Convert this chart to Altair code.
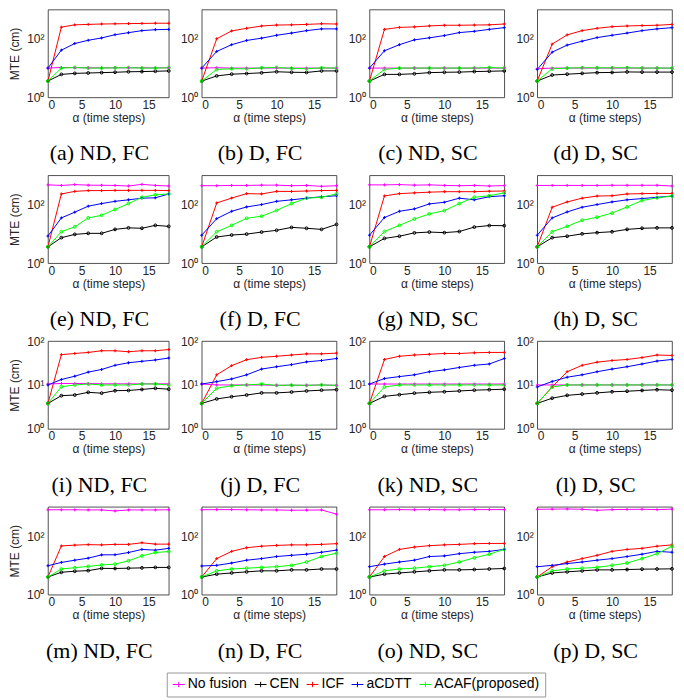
import altair as alt
import pandas as pd

steps = [0, 2, 4, 6, 8, 10, 12, 14, 16, 18]
methods = ["No fusion", "CEN", "ICF", "aCDTT", "ACAF(proposed)"]
colors = ["#ff00ff", "#000000", "#ff0000", "#0000ff", "#00ff00"]
plus_methods = ["No fusion", "ICF", "aCDTT"]
circle_methods = ["CEN", "ACAF(proposed)"]
captions = ["(a) ND, FC", "(b) D, FC", "(c) ND, SC", "(d) D, SC",
            "(e) ND, FC", "(f) D, FC", "(g) ND, SC", "(h) D, SC",
            "(i) ND, FC", "(j) D, FC", "(k) ND, SC", "(l) D, SC",
            "(m) ND, FC", "(n) D, FC", "(o) ND, SC", "(p) D, SC"]

# each panel: [No fusion, CEN, ICF, aCDTT, ACAF(proposed)]
mte_a = [[10, 10.5, 10.3, 10.2, 10.2, 10.2, 10.2, 10.2, 10.2, 10.2],
         [3.6, 6.1, 6.6, 6.8, 7.0, 7.2, 7.5, 7.6, 7.8, 8.0],
         [3.6, 250, 300, 310, 320, 325, 330, 335, 340, 340],
         [10, 41, 69, 89, 107, 138, 162, 190, 205, 210],
         [3.6, 10, 10.5, 10, 10, 10.2, 10.3, 10, 10, 10.3]]
mte_b = [[10, 10.3, 10, 10, 10, 10, 10, 10, 10, 10],
         [3.6, 5.4, 6.2, 6.5, 6.9, 7.5, 7.2, 7.1, 8, 8],
         [3.6, 100, 186, 228, 273, 295, 300, 310, 326, 320],
         [10, 37, 63, 88, 105, 132, 157, 190, 218, 218],
         [3.6, 9.0, 9.5, 9.5, 10.2, 10.5, 9.8, 9.5, 10.2, 10]]
mte_c = [[10, 10, 10, 10, 10, 10, 10, 10, 10, 10],
         [3.6, 6.1, 6.1, 6.4, 7.0, 7.2, 7.3, 7.6, 7.8, 8.0],
         [3.6, 210, 245, 255, 275, 290, 290, 295, 300, 320],
         [10, 39, 63, 92, 108, 129, 163, 180, 210, 240],
         [3.6, 9, 10, 10, 10, 10, 10, 10, 10.5, 10]]
mte_d = [[9.5, 10, 10, 10, 10, 10, 10, 10, 10, 10],
         [3.6, 5.8, 6.2, 6.6, 7.0, 7.1, 7.4, 7.3, 7.3, 7.3],
         [3.6, 66, 136, 190, 228, 259, 274, 283, 290, 310],
         [9, 35, 61, 83, 110, 132, 157, 190, 218, 240],
         [3.6, 9.5, 10, 10.3, 10.2, 10.2, 10.3, 10, 10, 10]]
mte_e = [[470, 450, 480, 460, 455, 450, 430, 490, 450, 430],
         [3.6, 7.4, 9.6, 10.4, 10.4, 14.2, 16, 15.5, 19.5, 18],
         [3.6, 230, 282, 300, 300, 305, 305, 305, 305, 300],
         [8.4, 35, 55, 88, 108, 129, 145, 165, 170, 230],
         [3.6, 11.8, 17.4, 35, 43, 68, 108, 177, 215, 230]]
mte_f = [[440, 440, 450, 450, 460, 460, 440, 450, 420, 440],
         [3.6, 7.8, 9.1, 9.8, 11.5, 13.2, 16.6, 15.5, 14.2, 21],
         [3.6, 113, 167, 236, 230, 282, 280, 290, 300, 305],
         [9, 33, 59, 83, 100, 129, 145, 165, 185, 200],
         [3.6, 11.8, 19.5, 34, 40, 63, 108, 165, 177, 230]]
mte_g = [[470, 470, 480, 460, 470, 450, 440, 450, 430, 445],
         [3.6, 7.0, 8.3, 10.8, 11.5, 11, 12, 17, 19.2, 19],
         [3.6, 197, 236, 250, 265, 275, 275, 275, 285, 290],
         [9, 36, 59, 71, 105, 120, 165, 145, 185, 200],
         [3.6, 12, 19.5, 32, 48, 62, 108, 177, 200, 250]]
mte_h = [[450, 450, 450, 450, 450, 455, 455, 455, 455, 430],
         [3.6, 7.4, 8.3, 10, 11, 11.8, 14.2, 15.5, 16, 16],
         [3.6, 81, 123, 165, 195, 200, 230, 236, 240, 240],
         [9, 35, 56, 81, 100, 123, 145, 160, 177, 195],
         [3.6, 11.8, 18, 29, 37, 51, 83, 137, 170, 195]]
mte_i = [[10.5, 10.8, 10.8, 10.8, 10.6, 10.6, 10.6, 10.6, 10.6, 10.6],
         [3.8, 5.7, 5.9, 6.8, 6.5, 7.4, 7.5, 7.9, 8.4, 8.0],
         [3.8, 49, 52, 55, 60, 60, 57, 60, 60, 64],
         [10, 13.3, 15.8, 19.6, 22.5, 28, 32, 34.5, 37, 41],
         [3.8, 9.1, 10, 10.5, 10, 10, 10, 10.5, 10.5, 10]]
mte_j = [[10.5, 10, 10, 10, 10, 9.8, 9.9, 9.8, 10, 9.8],
         [3.8, 4.8, 5.4, 5.9, 6.6, 6.6, 6.9, 7.3, 7.6, 7.8],
         [3.8, 17, 27.5, 37.6, 42.5, 45, 48, 51, 51, 53],
         [10.5, 11.9, 13.7, 17, 23, 26, 29, 33.5, 36, 40],
         [3.8, 8.4, 9.6, 10, 10.5, 9.8, 9.9, 9.8, 10, 9.8]]
mte_k = [[10.5, 10.5, 10.5, 10.5, 10.5, 10.5, 10.5, 10.5, 10.5, 10.5],
         [3.8, 5.5, 6.0, 6.5, 6.8, 7.0, 7.3, 7.6, 7.8, 8.0],
         [3.8, 38, 45, 48, 50, 52, 52, 54, 55, 55],
         [10.5, 14, 15.5, 17, 20, 22, 25, 28, 30, 40],
         [3.8, 9, 10, 10, 10, 10, 10, 10, 10, 10]]
mte_l = [[10, 10, 10, 10, 10, 10, 10, 10, 10, 10],
         [3.8, 5.0, 5.8, 6.2, 6.6, 7.0, 7.2, 7.5, 7.8, 7.6],
         [3.8, 9, 20, 28, 33, 36, 38, 42, 48, 47],
         [9, 12, 15, 17, 20, 23, 26, 30, 35, 38],
         [3.8, 9, 10, 10, 10, 10, 10, 10, 10, 10]]
mte_m = [[790, 790, 790, 780, 780, 720, 780, 780, 780, 790],
         [4.0, 5.8, 6.3, 6.6, 7.9, 7.8, 8.0, 8.2, 8.5, 8.5],
         [4.0, 46, 49, 51, 50, 52, 52, 59, 53, 53],
         [9.7, 12.6, 15, 17.6, 22.8, 23, 27.4, 35, 33, 38],
         [4.0, 7.5, 8.3, 9.2, 10.3, 11, 14.3, 21, 27.4, 29.6]]
mte_n = [[790, 800, 800, 790, 780, 780, 760, 770, 780, 560],
         [4.0, 5.0, 5.5, 6.0, 6.5, 6.5, 7.0, 7.0, 7.5, 7.5],
         [4.0, 17, 30, 40, 45, 48, 50, 50, 52, 55],
         [9.5, 10, 12, 15, 17, 20, 22, 24, 28, 33],
         [4.0, 6.5, 7.5, 8, 8.5, 9, 10, 13, 20, 26]]
mte_o = [[790, 790, 800, 790, 800, 790, 790, 800, 800, 800],
         [4.0, 5.0, 5.5, 6.0, 6.5, 7.0, 7.0, 7.2, 7.5, 7.8],
         [4.0, 20, 35, 42, 47, 50, 52, 55, 56, 56],
         [9, 11, 13, 15, 20, 21, 25, 28, 30, 35],
         [4.0, 6.5, 7.5, 8, 9, 10, 13, 18, 24, 35]]
mte_p = [[820, 830, 840, 820, 760, 800, 810, 820, 800, 830],
         [4.0, 5.5, 6.0, 6.5, 7.0, 7.0, 7.2, 7.4, 7.5, 7.6],
         [4.0, 9, 13, 17, 22, 30, 35, 38, 45, 50],
         [9, 10, 11.5, 13, 15, 17, 20, 24, 30, 28],
         [4.0, 6.5, 7.5, 8, 8.5, 10, 12, 17, 25, 45]]

panels_data = [mte_a, mte_b, mte_c, mte_d, mte_e, mte_f, mte_g, mte_h,
               mte_i, mte_j, mte_k, mte_l, mte_m, mte_n, mte_o, mte_p]

PLUS = "M-1,0L1,0M0,-1L0,1"

label_expr = ("datum.value == 1 ? '10\u2070' : datum.value == 10 ? '10\u00b9' : "
              "datum.value == 100 ? '10\u00b2' : '10\u00b3'")

legend = alt.Legend(
    title=None, orient="none", legendX=119, legendY=664,
    direction="horizontal", columns=5,
    symbolType="M-1,0L1,0M0,-0.45L0,0.45", symbolSize=140, symbolStrokeWidth=1,
    symbolFillColor="transparent",
    labelFont="Liberation Sans", labelFontSize=14, labelColor="#000000",
    labelOffset=2, columnPadding=5,
    strokeColor="#999999", fillColor="#ffffff", padding=5,
)


def make_panel(i):
    vals = panels_data[i]
    row, col = divmod(i, 4)
    rows = []
    for m, series in zip(methods, vals):
        for xv, yv in zip(steps, series):
            rows.append({"method": m, "x": xv, "v": yv})
    df = pd.DataFrame(rows)
    if row == 2:
        ydom, yvals = [1, 100], [1, 10, 100]
    else:
        ydom, yvals = [1, 1000], [1, 100]
    yaxis_kw = dict(values=yvals, labelExpr=label_expr, grid=False, ticks=False,
                    domain=False, labelPadding=4)
    if col == 0:
        yaxis = alt.Axis(title="MTE (cm)", titlePadding=5, **yaxis_kw)
    else:
        yaxis = alt.Axis(title=None, **yaxis_kw)
    xenc = alt.X("x:Q", scale=alt.Scale(domain=[0, 18], nice=False, zero=False),
                 axis=alt.Axis(values=[0, 5, 10, 15], title="\u03b1 (time steps)",
                               grid=False, ticks=False, domain=False,
                               labelPadding=2, titlePadding=2))
    yenc = alt.Y("v:Q", scale=alt.Scale(type="log", domain=ydom, nice=False),
                 axis=yaxis)
    cscale = alt.Scale(domain=methods, range=colors)
    base = alt.Chart(df)
    line = base.mark_line(strokeWidth=1).encode(
        x=xenc, y=yenc,
        color=alt.Color("method:N", scale=cscale, sort=methods, legend=legend),
        order=alt.Order("x:Q"))
    pts_plus = base.transform_filter(
        alt.FieldOneOfPredicate(field="method", oneOf=plus_methods)
    ).mark_point(filled=False, size=9, strokeWidth=1, opacity=1, shape=PLUS).encode(
        x=xenc, y=yenc,
        color=alt.Color("method:N", scale=cscale, sort=methods, legend=None))
    pts_circ = base.transform_filter(
        alt.FieldOneOfPredicate(field="method", oneOf=circle_methods)
    ).mark_point(filled=False, size=8, strokeWidth=1, opacity=1, shape="circle").encode(
        x=xenc, y=yenc,
        color=alt.Color("method:N", scale=cscale, sort=methods, legend=None))
    w = 121 if col == 0 else 135
    return alt.layer(line, pts_plus, pts_circ).properties(
        width=w, height=88,
        title=alt.Title(captions[i], orient="bottom", font="Liberation Serif",
                        fontSize=22, fontWeight="normal", color="#000000",
                        offset=20, anchor="middle", dx=-9))


chart = alt.concat(*[make_panel(i) for i in range(16)], columns=4,
                   spacing={"row": 78, "column": 33}, bounds="flush").properties(
    padding={"left": 0, "top": 0, "right": 0, "bottom": 0}
).configure_view(stroke="#262626", strokeWidth=0.8).configure_axis(
    labelFont="Liberation Sans", labelFontSize=12, labelColor="#262626",
    titleFont="Liberation Sans", titleFontSize=12, titleFontWeight="normal",
    titleColor="#262626"
)

chart.save("out.html", embed_options={"renderer": "svg", "actions": False})
